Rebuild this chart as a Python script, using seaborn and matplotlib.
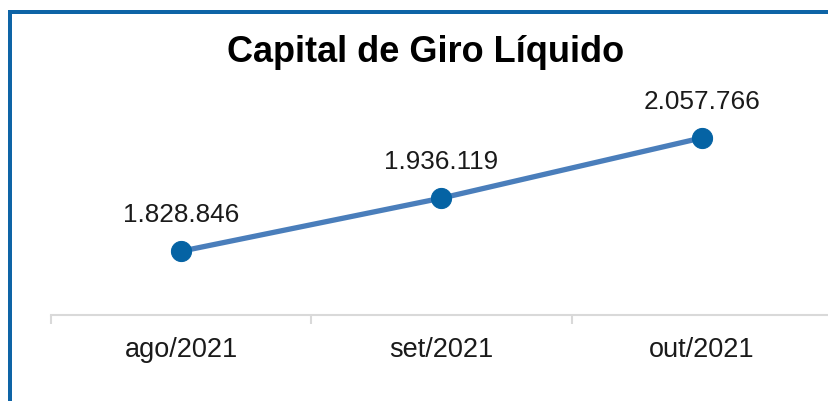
import matplotlib
matplotlib.use("Agg")
import matplotlib.pyplot as plt
from matplotlib.patches import Rectangle
from matplotlib.ticker import FixedLocator
import seaborn as sns
import pandas as pd

# Data
categories = ["ago/2021", "set/2021", "out/2021"]
values = [1828846, 1936119, 2057766]
value_labels = ["1.828.846", "1.936.119", "2.057.766"]
title = "Capital de Giro Líquido"

sns.set_style("white")
plt.rcParams["font.family"] = ["Liberation Sans", "DejaVu Sans"]

df = pd.DataFrame({"mes": categories, "valor": values})

fig = plt.figure(figsize=(8.29, 4.01), dpi=100)
ax = fig.add_axes([51 / 829, 86 / 401, 781 / 829, 198 / 401])

sns.lineplot(data=df, x="mes", y="valor", ax=ax, color="#4A7EBB", linewidth=3.8,
             marker="o", markersize=14.5, markerfacecolor="#0563A4",
             markeredgecolor="#0563A4", clip_on=False)

for i, (v, lab) in enumerate(zip(values, value_labels)):
    ax.annotate(lab, xy=(i, v), xytext=(0, 26), textcoords="offset points",
                ha="center", va="center", fontsize=18.8, color="#1a1a1a")

ax.set_xlim(-0.5, 2.5)
ax.set_ylim(1700000, 2100000)
ax.set_xlabel("")
ax.set_ylabel("")
ax.set_yticks([])
ax.set_xticks(range(len(categories)))
ax.set_xticklabels(categories, fontsize=19.5, color="#1a1a1a")
ax.tick_params(axis="x", which="major", length=0, pad=16)
ax.xaxis.set_minor_locator(FixedLocator([-0.5, 0.5, 1.5, 2.5]))
ax.tick_params(axis="x", which="minor", length=6.5, width=1.5, color="#D9D9D9",
               direction="out", bottom=True)

for s in ["top", "left", "right"]:
    ax.spines[s].set_visible(False)
ax.spines["bottom"].set_color("#D9D9D9")
ax.spines["bottom"].set_linewidth(1.5)
ax.patch.set_alpha(0)

fig.text(426 / 829, 1 - 53 / 401, title, ha="center", va="center",
         fontsize=26, fontweight="bold", color="black")

# Blue frame (left and top edges)
border = "#0E64A6"
fig.add_artist(Rectangle((8 / 829, 0), 4 / 829, 391 / 401, transform=fig.transFigure,
                         color=border, lw=0))
fig.add_artist(Rectangle((8 / 829, 1 - 14 / 401), 821 / 829, 4 / 401,
                         transform=fig.transFigure, color=border, lw=0))

fig.savefig("out.png", dpi=100)
